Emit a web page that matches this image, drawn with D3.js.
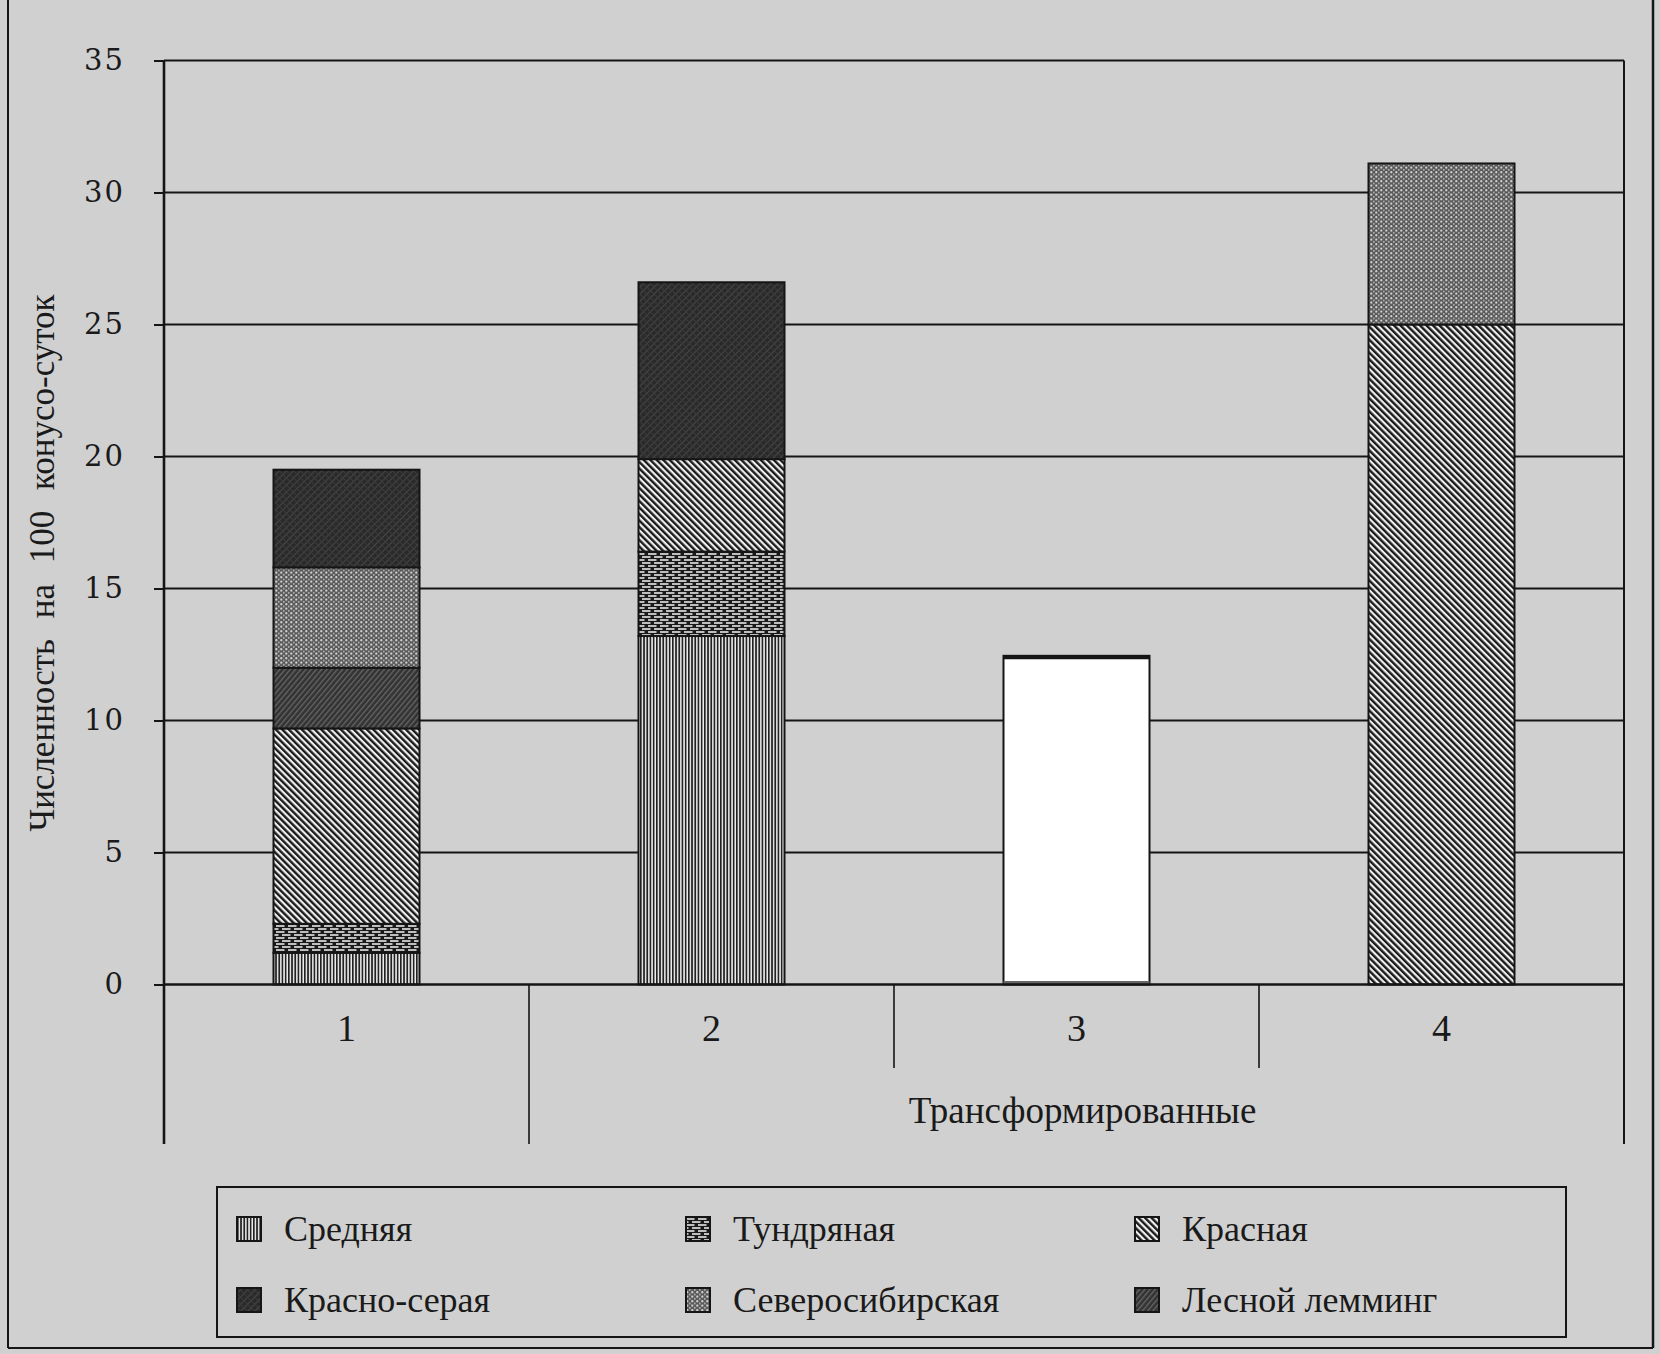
<!DOCTYPE html>
<html>
<head>
<meta charset="utf-8">
<script src="https://cdn.jsdelivr.net/npm/d3@7"></script>
<style>
  body { margin: 0; background: #d0d0d0; }
  svg { display: block; }
</style>
</head>
<body>
<svg id="chart" width="1660" height="1354"></svg>
<script>
// values
const categories = ["1", "2", "3", "4"];
const groupLabel = "Трансформированные";
const yTicks = [0, 5, 10, 15, 20, 25, 30, 35];
const species = ["Средняя", "Тундряная", "Красная", "Красно-серая", "Северосибирская", "Лесной лемминг"];

const sredn     = [1.2, 13.2, 0, 0];
const tundr     = [1.1, 3.2, 0, 0];
const krasn     = [7.4, 3.5, 0, 25.0];
const lesnoy    = [2.3, 0, 0, 0];
const severo    = [3.8, 0, 0, 6.1];
const krasnoser = [3.7, 6.7, 0, 0];
const unmarked  = [0, 0, 12.45, 0];   // bar 3 printed without a pattern

const stackKeys = ["Средняя", "Тундряная", "Красная", "Лесной лемминг", "Северосибирская", "Красно-серая", "unmarked"];
const rows = categories.map((c, i) => ({
  cat: c,
  "Средняя": sredn[i],
  "Тундряная": tundr[i],
  "Красная": krasn[i],
  "Лесной лемминг": lesnoy[i],
  "Северосибирская": severo[i],
  "Красно-серая": krasnoser[i],
  "unmarked": unmarked[i]
}));

const svg = d3.select("#chart");
const ink = "#151515";

let plotLeft = 164, plotRight = 1624, plotTop = 60.5, plotBase = 984.5, plotLower = 1144;

let x = d3.scaleBand().domain(categories).range([plotLeft, plotRight]).paddingInner(0.6).paddingOuter(0.3);
let y = d3.scaleLinear().domain([0, 35]).range([plotBase, plotTop]);

// patterns
let defs = svg.append("defs");

let p = defs.append("pattern").attr("id", "p-sredn").attr("patternUnits", "userSpaceOnUse")
  .attr("width", 3.2).attr("height", 10);
p.append("rect").attr("width", 3.2).attr("height", 10).attr("fill", "#eeeeee");
p.append("rect").attr("x", 0).attr("width", 1.7).attr("height", 10).attr("fill", "#222");

p = defs.append("pattern").attr("id", "p-tundr").attr("patternUnits", "userSpaceOnUse")
  .attr("width", 12).attr("height", 6);
p.append("rect").attr("width", 12).attr("height", 6).attr("fill", "#1a1a1a");
p.append("rect").attr("x", 0).attr("y", 1.2).attr("width", 8.5).attr("height", 1.6).attr("fill", "#e6e6e6");
p.append("rect").attr("x", 6).attr("y", 4.2).attr("width", 8.5).attr("height", 1.6).attr("fill", "#e6e6e6");
p.append("rect").attr("x", -6).attr("y", 4.2).attr("width", 8.5).attr("height", 1.6).attr("fill", "#e6e6e6");

p = defs.append("pattern").attr("id", "p-krasn").attr("patternUnits", "userSpaceOnUse")
  .attr("width", 4.6).attr("height", 10).attr("patternTransform", "rotate(-45)");
p.append("rect").attr("width", 4.6).attr("height", 10).attr("fill", "#f0f0f0");
p.append("rect").attr("width", 2.4).attr("height", 10).attr("fill", "#1a1a1a");

p = defs.append("pattern").attr("id", "p-krasnoser").attr("patternUnits", "userSpaceOnUse")
  .attr("width", 5).attr("height", 5).attr("patternTransform", "rotate(45)");
p.append("rect").attr("width", 5).attr("height", 5).attr("fill", "#2a2a2a");
p.append("rect").attr("width", 1).attr("height", 5).attr("fill", "#474747");
p.append("rect").attr("width", 5).attr("height", 1).attr("fill", "#3a3a3a");

p = defs.append("pattern").attr("id", "p-severo").attr("patternUnits", "userSpaceOnUse")
  .attr("width", 5).attr("height", 4.5);
p.append("rect").attr("width", 5).attr("height", 4.5).attr("fill", "#585858");
p.append("circle").attr("cx", 1.3).attr("cy", 1.2).attr("r", 1.1).attr("fill", "#d6d6d6");
p.append("circle").attr("cx", 3.8).attr("cy", 3.4).attr("r", 1.0).attr("fill", "#b4b4b4");

p = defs.append("pattern").attr("id", "p-lesnoy").attr("patternUnits", "userSpaceOnUse")
  .attr("width", 4).attr("height", 10).attr("patternTransform", "rotate(40)");
p.append("rect").attr("width", 4).attr("height", 10).attr("fill", "#333333");
p.append("rect").attr("width", 1.3).attr("height", 10).attr("fill", "#666666");

let fillFor = {
  "Средняя": "url(#p-sredn)",
  "Тундряная": "url(#p-tundr)",
  "Красная": "url(#p-krasn)",
  "Красно-серая": "url(#p-krasnoser)",
  "Северосибирская": "url(#p-severo)",
  "Лесной лемминг": "url(#p-lesnoy)",
  "unmarked": "#ffffff"
};

// gridlines (the 0 line is drawn as the axis)
svg.append("g").selectAll("line")
  .data(yTicks.filter(t => t > 0))
  .enter().append("line")
    .attr("x1", plotLeft).attr("x2", plotRight)
    .attr("y1", d => y(d)).attr("y2", d => y(d))
    .attr("stroke", ink).attr("stroke-width", 2);

// stacked bars
let stacked = d3.stack().keys(stackKeys)(rows);
svg.append("g").selectAll("g")
  .data(stacked)
  .enter().append("g")
    .attr("fill", d => fillFor[d.key])
  .selectAll("rect")
  .data(d => d.filter(s => s[1] - s[0] > 0))
  .enter().append("rect")
    .attr("x", d => x(d.data.cat))
    .attr("width", x.bandwidth())
    .attr("y", d => y(d[1]))
    .attr("height", d => y(d[0]) - y(d[1]))
    .attr("stroke", ink).attr("stroke-width", 2);

// thick top and bottom edges seen on bar 3
svg.append("line")
  .attr("x1", x("3")).attr("x2", x("3") + x.bandwidth())
  .attr("y1", y(unmarked[2]) + 1.5).attr("y2", y(unmarked[2]) + 1.5)
  .attr("stroke", ink).attr("stroke-width", 4);
svg.append("line")
  .attr("x1", x("3")).attr("x2", x("3") + x.bandwidth())
  .attr("y1", y(0) - 2).attr("y2", y(0) - 2)
  .attr("stroke", "#666").attr("stroke-width", 3);

// y axis
let yAxis = d3.axisLeft(y).tickValues(yTicks).tickSize(10).tickPadding(29);
let ya = svg.append("g").attr("transform", `translate(${plotLeft},0)`).call(yAxis);
ya.select(".domain").remove();
ya.selectAll(".tick line").attr("stroke", ink).attr("stroke-width", 2);
ya.selectAll(".tick text")
  .attr("fill", "#1a1a1a")
  .style("font-family", "'DejaVu Serif', serif")
  .style("font-size", "29px")
  .style("letter-spacing", "2px");

// frame lines of the plot
svg.append("line").attr("x1", plotLeft).attr("x2", plotLeft).attr("y1", plotTop).attr("y2", plotLower)
  .attr("stroke", ink).attr("stroke-width", 2.6);
svg.append("line").attr("x1", plotRight).attr("x2", plotRight).attr("y1", plotTop).attr("y2", plotLower)
  .attr("stroke", ink).attr("stroke-width", 2);
svg.append("line").attr("x1", plotLeft).attr("x2", plotRight).attr("y1", plotBase).attr("y2", plotBase)
  .attr("stroke", ink).attr("stroke-width", 2.6);

// category separators under the axis
let slot = i => x.range()[0] + i * x.step();
svg.append("line").attr("x1", slot(1)).attr("x2", slot(1)).attr("y1", plotBase).attr("y2", plotLower)
  .attr("stroke", ink).attr("stroke-width", 1.6);
[2, 3].forEach(i => {
  svg.append("line").attr("x1", slot(i)).attr("x2", slot(i)).attr("y1", plotBase).attr("y2", 1068)
    .attr("stroke", ink).attr("stroke-width", 1.6);
});

svg.append("g").selectAll("text")
  .data(categories)
  .enter().append("text")
    .attr("x", d => x(d) + x.bandwidth() / 2)
    .attr("y", 1041)
    .attr("text-anchor", "middle")
    .attr("fill", "#1a1a1a")
    .style("font-family", "'Liberation Serif', serif")
    .style("font-size", "38px")
    .text(d => d);

svg.append("text")
  .attr("x", (slot(1) + plotRight) / 2 + 6)
  .attr("y", 1123)
  .attr("text-anchor", "middle")
  .attr("fill", "#1a1a1a")
  .style("font-family", "'Liberation Serif', serif")
  .style("font-size", "37px")
  .text(groupLabel);

// y title
svg.append("text")
  .attr("transform", "translate(54,563) rotate(-90)")
  .attr("text-anchor", "middle")
  .attr("fill", "#1a1a1a")
  .style("font-family", "'Liberation Serif', serif")
  .style("font-size", "35px")
  .style("word-spacing", "12px")
  .text("Численность на 100 конусо-суток");

// legend
let lg = svg.append("g");
lg.append("rect").attr("x", 217).attr("y", 1187).attr("width", 1349).attr("height", 150)
  .attr("fill", "none").attr("stroke", ink).attr("stroke-width", 2);
let colX = [237, 686, 1135];
let rowY = [1229, 1300];
let items = lg.selectAll("g.item")
  .data(species)
  .enter().append("g")
    .attr("class", "item")
    .attr("transform", (d, i) => `translate(${colX[i % 3]},${rowY[Math.floor(i / 3)]})`);
items.append("rect")
  .attr("x", 0).attr("y", -12).attr("width", 24).attr("height", 24)
  .attr("fill", d => fillFor[d]).attr("stroke", ink).attr("stroke-width", 2);
items.append("text")
  .attr("x", 47).attr("y", 12)
  .attr("fill", "#1a1a1a")
  .style("font-family", "'Liberation Serif', serif")
  .style("font-size", "36px")
  .text(d => d);

// page frame from the scan
svg.append("line").attr("x1", 8).attr("x2", 8).attr("y1", 0).attr("y2", 1348).attr("stroke", ink).attr("stroke-width", 2);
svg.append("line").attr("x1", 1653).attr("x2", 1653).attr("y1", 0).attr("y2", 1348).attr("stroke", ink).attr("stroke-width", 2.5);
svg.append("line").attr("x1", 8).attr("x2", 1653).attr("y1", 1348).attr("y2", 1348).attr("stroke", ink).attr("stroke-width", 2);
</script>
</body>
</html>
